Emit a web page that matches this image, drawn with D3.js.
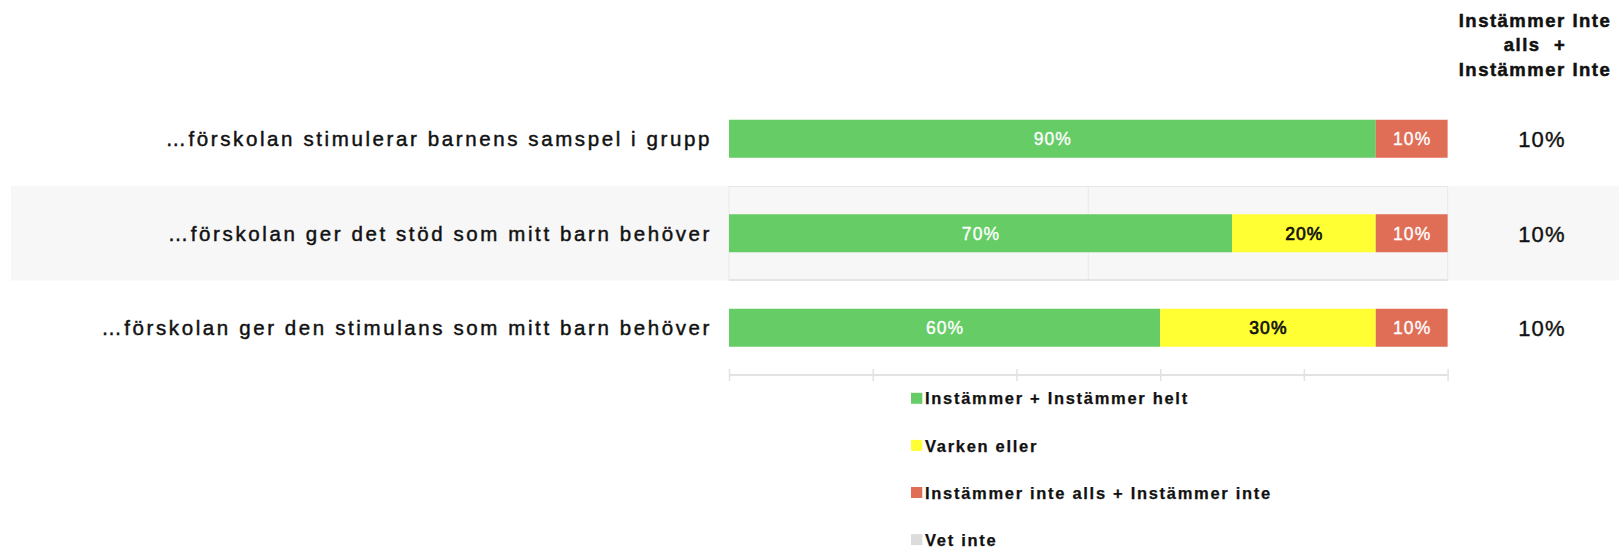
<!DOCTYPE html>
<html><head><meta charset="utf-8">
<script src="https://cdn.jsdelivr.net/npm/d3@7"></script>
<style>
body{margin:0;background:#fff;}
svg{display:block;}
text{white-space:pre;}
</style>
</head><body>
<script>
// ---------- data ----------
const categories = [
  "…förskolan stimulerar barnens samspel i grupp",
  "…förskolan ger det stöd som mitt barn behöver",
  "…förskolan ger den stimulans som mitt barn behöver"
];
const seriesNames = [
  "Instämmer + Instämmer helt",
  "Varken eller",
  "Instämmer inte alls + Instämmer inte",
  "Vet inte"
];
const agree     = [90, 70, 60];
const neutral   = [0, 20, 30];
const disagree  = [10, 10, 10];
const dontKnow  = [0, 0, 0];
const disagreeTotal = [10, 10, 10];
const xTicks = [0, 20, 40, 60, 80, 100];
const gridTicks = [0, 50, 100];
const headerLines = ["Instämmer Inte", "alls  +", "Instämmer Inte"];

// ---------- style ----------
const W = 1619, H = 547;
const colors = ["#66cc66", "#ffff33", "#e06d56", "#dcdcdc"];
const labelColors = ["#ffffff", "#111111", "#ffffff", "#111111"];
const plot = {left: 729, right: 1447.6, top: 91.5, bottom: 375};
const barFrac = 0.402;
const FONT = "Liberation Sans, Arial, sans-serif";

const svg = d3.select("body").append("svg").attr("width", W).attr("height", H);

const x = d3.scaleLinear().domain([0, 100]).range([plot.left, plot.right]);
const y = d3.scaleBand().domain(categories).range([plot.top, plot.bottom]).padding(0);
const bw = y.bandwidth();
const bh = bw * barFrac;

// alternating band
const banded = categories.filter((c, i) => i % 2 === 1);
svg.append("g").selectAll("rect").data(banded).join("rect")
  .attr("x", 11).attr("width", W - 11)
  .attr("y", d => y(d)).attr("height", bw)
  .attr("fill", "#f7f7f7");

// grid inside band (plot-area border lines)
const bandG = svg.append("g");
banded.forEach(c => {
  bandG.selectAll(null).data(gridTicks).join("line")
    .attr("x1", d => x(d)).attr("x2", d => x(d))
    .attr("y1", y(c)).attr("y2", y(c) + bw)
    .attr("stroke", "#e9e9e9").attr("stroke-width", 1);
  bandG.append("line").attr("x1", x(0)).attr("x2", x(100))
    .attr("y1", y(c) + 0.5).attr("y2", y(c) + 0.5)
    .attr("stroke", "#e6e6e6");
  bandG.append("line").attr("x1", x(0)).attr("x2", x(100))
    .attr("y1", y(c) + bw - 0.5).attr("y2", y(c) + bw - 0.5)
    .attr("stroke", "#dedede").attr("stroke-width", 1.5);
});

// stacked data
const rows = categories.map((c, i) => ({cat: c, s0: agree[i], s1: neutral[i], s2: disagree[i], s3: dontKnow[i]}));
const stack = d3.stack().keys(["s0", "s1", "s2", "s3"]);
const stacked = stack(rows);

const barsG = svg.append("g");
stacked.forEach((layer, li) => {
  const g = barsG.append("g");
  const vis = layer.filter(d => d[1] - d[0] > 0);
  g.selectAll("rect").data(vis).join("rect")
    .attr("x", d => x(d[0]))
    .attr("width", d => x(d[1]) - x(d[0]))
    .attr("y", d => y(d.data.cat) + (bw - bh) / 2)
    .attr("height", bh)
    .attr("fill", colors[li]);
  g.selectAll("text").data(vis).join("text")
    .attr("x", d => (x(d[0]) + x(d[1])) / 2 + 0.5)
    .attr("y", d => y(d.data.cat) + bw / 2)
    .attr("dy", "0.36em")
    .attr("text-anchor", "middle")
    .attr("font-family", FONT)
    .attr("font-size", 17.5)
    .attr("letter-spacing", 1.1)
    .attr("fill", labelColors[li])
    .attr("stroke", labelColors[li])
    .attr("stroke-width", li === 1 ? 0.7 : 0.35)
    .text(d => (d[1] - d[0]) + "%");
});

// category labels
svg.append("g").selectAll("text").data(categories).join("text")
  .attr("x", 712)
  .attr("y", d => y(d) + bw / 2)
  .attr("dy", "0.36em")
  .attr("text-anchor", "end")
  .attr("font-family", FONT)
  .attr("font-size", 20.5)
  .attr("letter-spacing", 2.6)
  .attr("fill", "#111")
  .attr("stroke", "#111")
  .attr("stroke-width", 0.45)
  .text(d => d);

// x axis (no labels)
const axis = d3.axisBottom(x).tickValues(xTicks).tickSize(12).tickFormat("");
const axG = svg.append("g").attr("transform", `translate(0,${plot.bottom - 6})`).call(axis);
axG.select(".domain").attr("stroke", "#e2e2e2").attr("stroke-width", 2)
  .attr("d", `M${x(0)},6H${x(100)}`);
axG.selectAll(".tick line").attr("stroke", "#e2e2e2").attr("stroke-width", 1.5);

// right column
svg.append("g").selectAll("text").data(disagreeTotal).join("text")
  .attr("x", 1542)
  .attr("y", (d, i) => y(categories[i]) + bw / 2)
  .attr("dy", "0.38em")
  .attr("text-anchor", "middle")
  .attr("font-family", FONT)
  .attr("font-size", 22)
  .attr("letter-spacing", 1.2)
  .attr("fill", "#111")
  .attr("stroke", "#111")
  .attr("stroke-width", 0.4)
  .text(d => d + "%");

// header
svg.append("g").selectAll("text").data(headerLines).join("text")
  .attr("x", 1535)
  .attr("y", (d, i) => 26.7 + i * 24.7)
  .attr("text-anchor", "middle")
  .attr("font-family", FONT)
  .attr("font-size", 18.5)
  .attr("font-weight", "bold")
  .attr("letter-spacing", 1.5)
  .attr("fill", "#111")
  .attr("stroke", "#111")
  .attr("stroke-width", 0.5)
  .text(d => d);

// legend
const lg = svg.append("g").attr("transform", "translate(911,392.8)");
const li = lg.selectAll("g").data(seriesNames).join("g")
  .attr("transform", (d, i) => `translate(0,${i * 47.1})`);
li.append("rect").attr("width", 11.3).attr("height", 11).attr("fill", (d, i) => colors[i]);
li.append("text").attr("x", 14).attr("y", 11.6)
  .attr("font-family", FONT)
  .attr("font-size", 16.5)
  .attr("font-weight", "bold")
  .attr("letter-spacing", 1.7)
  .attr("fill", "#111")
  .attr("stroke", "#111")
  .attr("stroke-width", 0.25)
  .text(d => d);
</script>
</body></html>
